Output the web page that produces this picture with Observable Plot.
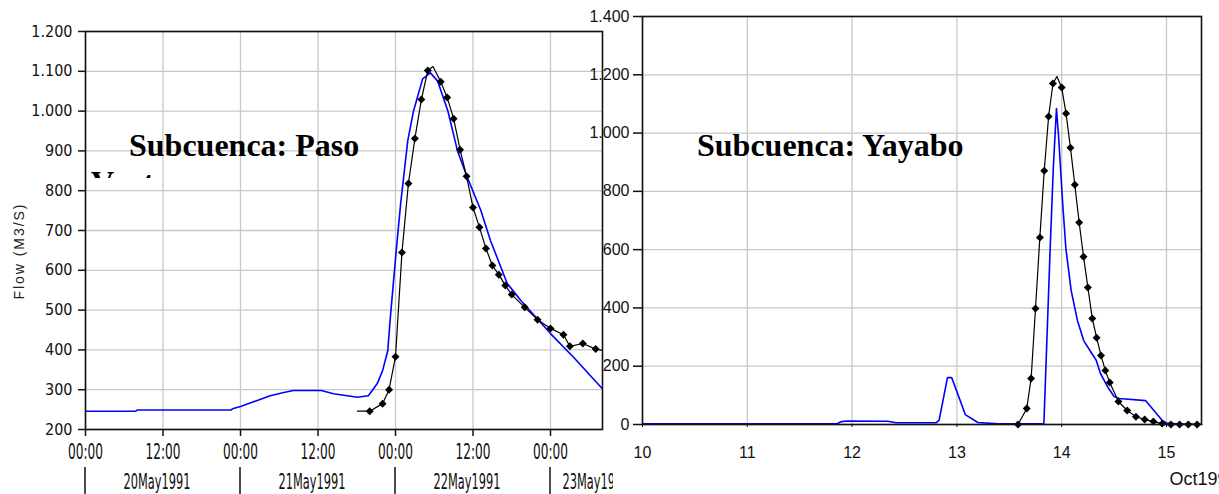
<!DOCTYPE html>
<html><head><meta charset="utf-8">
<script src="https://cdn.jsdelivr.net/npm/d3@7"></script>
<script src="https://cdn.jsdelivr.net/npm/@observablehq/plot@0.6"></script>
<style>
body{margin:0;background:#fff;width:1219px;height:494px;overflow:hidden;position:relative;}
#left,#right{position:absolute;left:0;top:0;}
.title{position:absolute;font-family:"Liberation Serif","Times New Roman",serif;font-weight:bold;font-size:32px;line-height:37px;color:#000;overflow:hidden;white-space:nowrap;}
</style></head><body>
<div id="left"></div><div id="right"></div>
<div class="title" style="left:91px;top:127px;height:51px;"><div style="padding-left:38px">Subcuenca: Paso</div><div>Ventura</div></div>
<div class="title" style="left:697px;top:127px;">Subcuenca: Yayabo</div>
<script>
// ---------- Left chart: Subcuenca Paso Ventura (hours from 20May1991 00:00) ----------
const pasoSimHours = [0,7.8,8,22.5,22.9,24,26.6,28.6,30.7,32.2,36.5,38.4,42.1,43.8,44.4,45.2,46,46.8,47.2,47.7,48.2,48.8,49.9,50.8,52.2,53.4,54.5,56.1,57.6,59.1,61.2,62.7,65.3,67.4,72,75.6,80];
const pasoSimFlow  = [246,246,249,249,253,258,273,285,293,298,298,290,281,285,298,316,348,398,481,574,665,768,926,1001,1081,1096,1076,1001,900,834,751,675,567,524,441,381,303];
const pasoObsHours = [42.1,44,46,47,48,49,50,51,52,53,53.8,55,56,57,58,59,60,61,62,63,64,65,66,68,70,72,74,75,77,79,80.05];
const pasoObsFlow  = [246,246,265,300,383,645,818,931,1029,1102,1112,1074,1034,981,903,836,758,708,655,612,589,562,539,507,476,454,438,409,416,402,399];
const pasoTickHours = [0,12,24,36,48,60,72];
const pasoYTicks = [200,300,400,500,600,700,800,900,1000,1100,1200];
const pasoDayLabels = ["20May1991","21May1991","22May1991","23May1991"];
const pasoDayStartHours = [0,24,48,72];
const pasoYLabel = "Flow (M3/S)";

// ---------- Right chart: Subcuenca Yayabo (days of Oct 1991) ----------
const yayaboSimDay  = [10,11.85,11.9,11.95,12.34,12.42,12.8,12.83,12.91,12.95,13.02,13.08,13.2,13.4,13.83,13.89,13.92,13.95,13.97,14.01,14.04,14.09,14.15,14.21,14.28,14.33,14.37,14.44,14.5,14.55,14.8,14.88,14.96,15.0,15.1,15.334];
const yayaboSimFlow = [2,2,10,12,11,6,6,14,161,161,93,34,7,2,2,604,880,1084,990,755,604,460,357,288,248,220,175,128,96,89,82,48,14,5,2,1];
const yayaboObsHour = [14,16,17,18,19,20,21,22,22.9,24,25,26,27,28,29,30,31,32,33,34,35,37,39,41,43,45,47,49,51,53,55,56.1];
const yayaboObsFlow = [0,55,158,398,642,871,1057,1170,1194,1156,1067,950,823,693,576,470,364,298,237,185,144,79,48,27,17,10,3,0,0,0,0,0];
const yayaboXTicks = [10,11,12,13,14,15];
const yayaboYTicks = [0,200,400,600,800,1000,1200,1400];
const yayaboMonth = "Oct1991";

const fmt = d3.formatLocale({decimal:",", thousands:".", grouping:[3], currency:["",""]}).format(",");
const NARROW = '"Liberation Sans Narrow","Arial Narrow","DejaVu Sans Condensed",sans-serif';
const SANS = '"Liberation Sans",Arial,sans-serif';
const GRID = {stroke:"#c8c8c8", strokeOpacity:1, strokeWidth:1.3};

const t0 = Date.UTC(1991,4,20);
const hr = h => new Date(t0 + h*3600e3);
const simL = pasoSimHours.map((h,i)=>({t:hr(h), q:pasoSimFlow[i]}));
const obsL = pasoObsHours.map((h,i)=>({t:hr(h), q:pasoObsFlow[i], h}));
const xTicksL = pasoTickHours.map(hr);
const daysL = pasoDayLabels.map((s,i)=>({label:s, mid:hr(pasoDayStartHours[i]+12), start:hr(pasoDayStartHours[i])}));

const left = Plot.plot({
  width:613, height:494,
  marginLeft:85, marginRight:11, marginTop:31, marginBottom:65,
  style:{background:"transparent", overflow:"hidden", fontFamily:NARROW, color:"#111"},
  x:{type:"utc", domain:[hr(0), hr(80.05)]},
  y:{domain:[200,1200]},
  marks:[
    Plot.gridX({ticks:xTicksL, ...GRID}),
    Plot.gridY({ticks:pasoYTicks, ...GRID}),
    Plot.line(simL, {x:"t", y:"q", stroke:"#0000ff", strokeWidth:1.6}),
    Plot.line(obsL, {x:"t", y:"q", stroke:"#000", strokeWidth:1.2}),
    Plot.dot(obsL.filter(d=>Number.isInteger(d.h)), {x:"t", y:"q", symbol:"diamond2", r:3.6, fill:"#000", stroke:"none"}),
    Plot.frame({stroke:"#111", strokeWidth:1.6}),
    Plot.axisY({ticks:pasoYTicks, tickSize:7, tickPadding:6, tickFormat:fmt, fontSize:16, label:null, strokeWidth:1.5}),
    Plot.axisX({ticks:xTicksL, tickSize:7, tickPadding:8, tickFormat:d3.utcFormat("%H:%M"), fontSize:21, label:null, strokeWidth:1.5}),
    Plot.text(daysL.slice(0,3), {x:"mid", text:"label", frameAnchor:"bottom", dy:53, dx:-6, lineAnchor:"middle", fontSize:21}),
    Plot.text(daysL.slice(3), {x:"start", text:"label", frameAnchor:"bottom", dy:53, dx:12, textAnchor:"start", lineAnchor:"middle", fontSize:21})
  ]
});
document.getElementById("left").appendChild(left);
{
  const s = d3.select(left);
  s.selectAll('g[aria-label="x-axis tick label"] text').attr("textLength",35).attr("lengthAdjust","spacingAndGlyphs");
  s.selectAll('g[aria-label="text"] text').attr("textLength",67).attr("lengthAdjust","spacingAndGlyphs");
  const xs = left.scale("x");
  s.append("g").selectAll("line").data(daysL).join("line")
    .attr("x1", d=>xs.apply(d.start)).attr("x2", d=>xs.apply(d.start))
    .attr("y1", 467).attr("y2", 494).attr("stroke","#111").attr("stroke-width",1.5);
  s.append("text").text(pasoYLabel)
    .attr("transform","translate(24,252) rotate(-90)")
    .attr("text-anchor","middle").attr("font-family",SANS).attr("font-size",14)
    .attr("fill","#222").attr("textLength",95).attr("lengthAdjust","spacing");
}

const simR = yayaboSimDay.map((d,i)=>({d, q:yayaboSimFlow[i]}));
const obsR = yayaboObsHour.map((h,i)=>({d:13+h/24, q:yayaboObsFlow[i], h}));

const right = Plot.plot({
  width:1219, height:494,
  marginLeft:642, marginRight:18, marginTop:16, marginBottom:70,
  style:{background:"transparent", overflow:"visible", fontFamily:SANS, color:"#111"},
  x:{domain:[10,15.334]},
  y:{domain:[0,1400]},
  marks:[
    Plot.gridX({ticks:yayaboXTicks, ...GRID}),
    Plot.gridY({ticks:yayaboYTicks, ...GRID}),
    Plot.line(simR, {x:"d", y:"q", stroke:"#0000ff", strokeWidth:1.6}),
    Plot.line(obsR, {x:"d", y:"q", stroke:"#000", strokeWidth:1.2}),
    Plot.dot(obsR.filter(d=>Number.isInteger(d.h)), {x:"d", y:"q", symbol:"diamond2", r:3.6, fill:"#000", stroke:"none"}),
    Plot.frame({stroke:"#111", strokeWidth:1.6}),
    Plot.axisY({ticks:yayaboYTicks, tickSize:9, tickPadding:4, tickFormat:fmt, fontSize:16, label:null, strokeWidth:1.5}),
    Plot.axisX({ticks:yayaboXTicks, tickSize:3, tickPadding:19, tickFormat:d=>String(d), fontSize:16, label:null}),
    Plot.text([yayaboMonth], {text:d=>d, frameAnchor:"bottom-right", dy:55, dx:-32, textAnchor:"start", lineAnchor:"middle", fontSize:18})
  ]
});
document.getElementById("right").appendChild(right);
</script>
</body></html>
